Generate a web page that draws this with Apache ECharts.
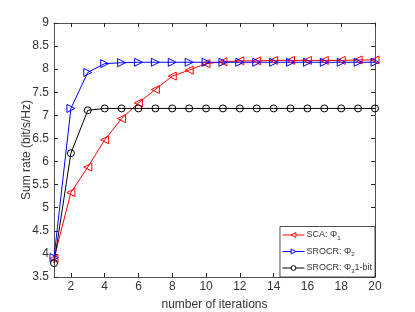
<!DOCTYPE html>
<html><head><meta charset="utf-8">
<script src="https://cdn.jsdelivr.net/npm/echarts@6/dist/echarts.min.js"></script>
<style>html,body{margin:0;padding:0;background:#fff}#c{width:415px;height:312px}</style>
</head><body><div id="c"></div>
<script>
const iterations = [1,2,3,4,5,6,7,8,9,10,11,12,13,14,15,16,17,18,19,20];
const sca = [3.9,5.33,5.88,6.47,6.93,7.27,7.56,7.85,7.98,8.12,8.16,8.18,8.18,8.19,8.19,8.19,8.19,8.19,8.2,8.2];
const srocr2 = [3.92,7.15,7.93,8.12,8.14,8.15,8.15,8.15,8.15,8.15,8.15,8.15,8.15,8.15,8.15,8.15,8.15,8.15,8.15,8.15];
const srocr3 = [3.8,6.18,7.11,7.15,7.15,7.15,7.15,7.15,7.15,7.15,7.15,7.15,7.15,7.15,7.15,7.15,7.15,7.15,7.15,7.15];
const xTicks = [2,4,6,8,10,12,14,16,18,20];
const legendNames = ['SCA: Φ1','SROCR: Φ2','SROCR: Φ3 1-bit'];
const colors = ['#ff0000','#0000ff','#000000'];

const font = '"Liberation Sans", Arial, Helvetica, sans-serif';
const axisColor = '#262626';
const textColor = '#333333';
const chart = echarts.init(document.getElementById('c'));
const pair = (ys) => iterations.map((x,i)=>[x, ys[i]]);
const xBase = {
  type:'value', min:1, max:20,
  axisLine:{show:true, onZero:false, lineStyle:{color:axisColor, width:0.8}},
  axisTick:{show:true, inside:true, length:4, customValues:xTicks, lineStyle:{color:axisColor}},
  splitLine:{show:false}
};
const yBase = {
  type:'value', min:3.5, max:9, interval:0.5,
  axisLine:{show:true, onZero:false, lineStyle:{color:axisColor, width:0.8}},
  axisTick:{show:true, inside:true, length:4, lineStyle:{color:axisColor}},
  splitLine:{show:false}
};
const mkSeries = (name, data, color, symbol, rot, size) => ({
  name, type:'line', data: pair(data), xAxisIndex:0, yAxisIndex:0,
  symbol, symbolSize:size, symbolRotate:rot,
  lineStyle:{color, width:1},
  itemStyle:{color:'rgba(255,255,255,0)', borderColor:color, borderWidth:1},
  animation:false
});
chart.setOption({
  animation:false,
  grid:{left:54, right:40, top:23, bottom:35, outerBoundsMode:'none', containLabel:false},
  xAxis:[
    Object.assign({}, xBase, {position:'bottom', name:'number of iterations', nameLocation:'middle', nameGap:22,
      nameMoveOverlap:false,
      nameTextStyle:{fontFamily:font, fontSize:12, color:textColor},
      axisLabel:{show:true, customValues:xTicks, fontFamily:font, fontSize:12, color:textColor, margin:4}}),
    Object.assign({}, xBase, {position:'top', axisLabel:{show:false}})
  ],
  yAxis:[
    Object.assign({}, yBase, {position:'left', name:'Sum rate (bit/s/Hz)', nameLocation:'middle', nameGap:21,
      nameMoveOverlap:false,
      nameTextStyle:{fontFamily:font, fontSize:12, color:textColor},
      axisLabel:{show:true, fontFamily:font, fontSize:12, color:textColor, margin:5}}),
    Object.assign({}, yBase, {position:'right', axisLabel:{show:false}})
  ],
  legend:{
    orient:'vertical', right:40, bottom:35, itemWidth:22, itemHeight:6, itemGap:6,
    padding:[4,3,3,2],
    backgroundColor:'#fff', borderColor:axisColor, borderWidth:0.8,
    data: legendNames.map((n,i)=>({name:n,
      itemStyle:{color:'#fff', borderColor:colors[i], borderWidth:1},
      lineStyle:{color:colors[i], width:1}})),
    formatter: function(n){
      const m = n.match(/^(.*Φ)(\d)(.*)$/);
      return '{t|'+m[1]+'}{s|'+m[2]+'}{t|'+m[3].trim()+'}';
    },
    textStyle:{fontFamily:font, fontSize:9, color:textColor, padding:[0,0,0,-3],
      rich:{t:{fontFamily:font, fontSize:9, color:textColor},
            s:{fontFamily:font, fontSize:6, color:textColor, verticalAlign:'bottom', padding:[6,0,0,0]}}}
  },
  series:[
    mkSeries(legendNames[0], sca, colors[0], 'triangle', 90, 8),
    mkSeries(legendNames[1], srocr2, colors[1], 'triangle', -90, 8),
    mkSeries(legendNames[2], srocr3, colors[2], 'circle', 0, 7)
  ]
});
</script></body></html>
